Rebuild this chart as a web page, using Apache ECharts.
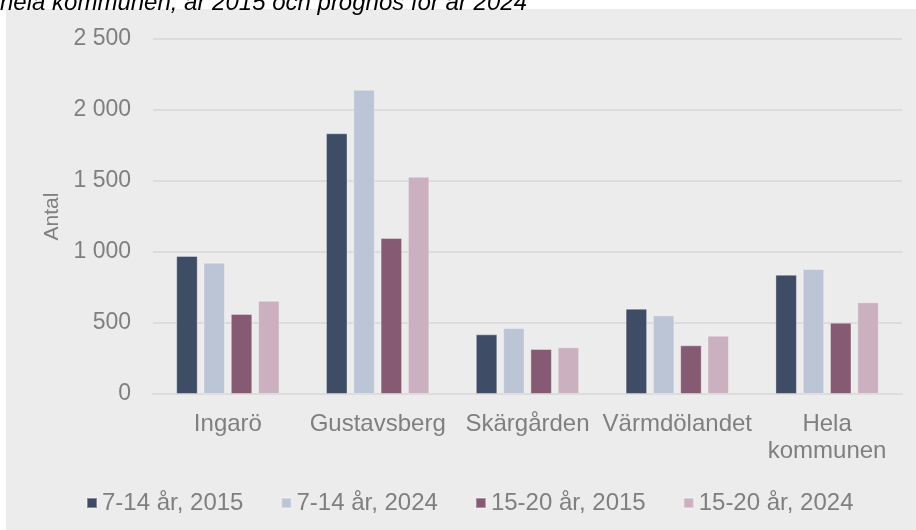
<!DOCTYPE html>
<html>
<head>
<meta charset="utf-8">
<script src="https://cdn.jsdelivr.net/npm/echarts@6/dist/echarts.min.js"></script>
<style>
  html, body { margin: 0; padding: 0; background: #fff; }
  #chart { width: 916px; height: 530px; }
</style>
</head>
<body>
<div id="chart"></div>
<script>
var categories = ['Ingarö', 'Gustavsberg', 'Skärgården', 'Värmdölandet', 'Hela\nkommunen'];
var seriesNames = ['7-14 år, 2015', '7-14 år, 2024', '15-20 år, 2015', '15-20 år, 2024'];
var barn2015 = [972, 1836, 420, 601, 840];
var barn2024 = [925, 2143, 465, 554, 880];
var unga2015 = [563, 1099, 317, 343, 502];
var unga2024 = [657, 1530, 329, 411, 646];
var yTicks = [0, 500, 1000, 1500, 2000, 2500];

var colors = ['#3f4c65', '#bcc5d6', '#855a72', '#cbb0bf'];
var grey = '#7f7f7f';
var font = 'Liberation Sans';

function fmt(v) {
  // svensk tusentalsavgränsare
  return String(v).replace(/\B(?=(\d{3})+(?!\d))/g, ' ');
}

var chart = echarts.init(document.getElementById('chart'));
var allData = [barn2015, barn2024, unga2015, unga2024];

var option = {
  animation: false,
  color: colors,
  graphic: [
    {
      type: 'rect',
      z: -10,
      shape: { x: 6, y: 9, width: 910, height: 521 },
      style: { fill: '#ececec' }
    },
    {
      type: 'text',
      z: 10,
      x: 0,
      y: 15,
      style: {
        text: 'hela kommunen, år 2015 och prognos för år 2024',
        font: 'italic 24px "Liberation Sans"',
        fill: '#000',
        verticalAlign: 'bottom'
      }
    }
  ],
  grid: { left: 153, right: 14, top: 39, bottom: 136 },
  legend: {
    data: seriesNames,
    left: 81,
    top: 486,
    icon: 'rect',
    itemWidth: 10,
    itemHeight: 10,
    itemGap: 37,
    textStyle: { color: grey, fontSize: 24, fontFamily: font }
  },
  xAxis: {
    type: 'category',
    data: categories,
    axisTick: { show: false },
    axisLine: { lineStyle: { color: '#dcdcdc', width: 2 } },
    axisLabel: { interval: 0, color: grey, fontSize: 24, fontFamily: font, margin: 17, lineHeight: 27 }
  },
  yAxis: {
    type: 'value',
    min: yTicks[0],
    max: yTicks[yTicks.length - 1],
    interval: 500,
    name: 'Antal',
    nameLocation: 'middle',
    nameGap: 90,
    nameTextStyle: { color: grey, fontSize: 21, fontFamily: font },
    axisLine: { show: false },
    axisTick: { show: false },
    splitLine: { lineStyle: { color: '#dcdcdc', width: 2 } },
    axisLabel: { color: grey, fontSize: 23, fontFamily: font, margin: 22, formatter: fmt }
  },
  series: seriesNames.map(function (name, i) {
    return {
      name: name,
      type: 'bar',
      data: allData[i],
      barGap: '27%',
      barCategoryGap: '31%',
      itemStyle: { borderColor: 'rgba(255,255,255,0.35)', borderWidth: 1 }
    };
  })
};

chart.setOption(option);
</script>
</body>
</html>
